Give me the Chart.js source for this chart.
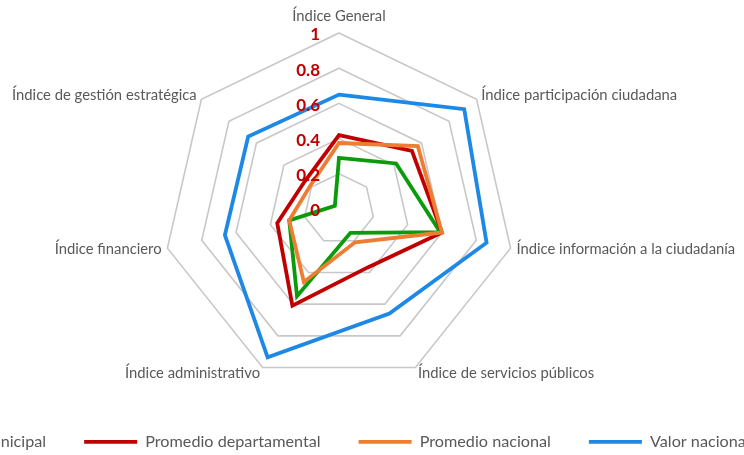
<!DOCTYPE html>
<html><head><meta charset="utf-8">
<script src="https://cdn.jsdelivr.net/npm/chart.js@4.4.1/dist/chart.umd.min.js"></script>
<style>
html,body{margin:0;padding:0;background:#fff;overflow:hidden;width:744px;height:455px;}
#wrap{position:absolute;left:-187px;top:0;width:1000px;height:460px;}
</style></head><body>
<div id="wrap"><canvas id="c" width="1000" height="460"></canvas></div>
<script>
const categories = [
  'Índice General',
  'Índice participación ciudadana',
  'Índice información a la ciudadanía',
  'Índice de servicios públicos',
  'Índice administrativo',
  'Índice financiero',
  'Índice de gestión estratégica'
];
const tickLabels = ['0', '0.2', '0.4', '0.6', '0.8', '1'];
const valorMunicipal        = [0.29, 0.415, 0.59, 0.15, 0.55, 0.29, 0.03];
const promedioDepartamental = [0.42, 0.53, 0.60, 0.37, 0.61, 0.36, 0.25];
const promedioNacional      = [0.375, 0.573, 0.60, 0.21, 0.46, 0.29, 0.21];
const valorNacional         = [0.65, 0.91, 0.86, 0.66, 0.935, 0.665, 0.66];
const seriesNames = ['Valor municipal', 'Promedio departamental', 'Promedio nacional', 'Valor nacional'];
const seriesColors = ['#0A9B0A', '#C00000', '#ED7D31', '#1E88E5'];

const FONT = 'Lato';

const radarText = {
  id: 'radarText',
  afterDatasetsDraw(chart) {
    const s = chart.scales.r;
    const ctx = chart.ctx;
    ctx.save();
    ctx.font = '14.8px ' + FONT;
    ctx.fillStyle = '#595959';
    ctx.textBaseline = 'middle';
    categories.forEach((lab, i) => {
      const p = s.getPointPosition(i, s.drawingArea + 6);
      const dx = p.x - s.xCenter;
      if (Math.abs(dx) < 1) { ctx.textAlign = 'center'; ctx.fillText(lab, p.x, p.y - 11); }
      else { ctx.textAlign = dx > 0 ? 'left' : 'right'; ctx.fillText(lab, p.x, p.y); }
    });
    ctx.font = 'bold 17px ' + FONT;
    ctx.fillStyle = '#C00000';
    ctx.textAlign = 'right';
    s.ticks.forEach((t, i) => {
      const y = s.yCenter - s.getDistanceFromCenterForValue(t.value);
      ctx.fillText(tickLabels[i] ?? String(t.value), s.xCenter - 19, y + 2);
    });
    ctx.restore();
  }
};

const allSeries = [valorMunicipal, promedioDepartamental, promedioNacional, valorNacional];

new Chart(document.getElementById('c'), {
  type: 'radar',
  data: {
    labels: categories,
    datasets: allSeries.map((d, i) => ({
      label: seriesNames[i],
      data: d,
      borderColor: seriesColors[i],
      backgroundColor: seriesColors[i],
      borderWidth: 3.8,
      borderCapStyle: 'round',
      borderJoinStyle: 'miter',
      fill: false,
      pointRadius: 0,
      pointHoverRadius: 0,
      order: 3 - i
    }))
  },
  options: {
    responsive: false,
    animation: false,
    devicePixelRatio: 1,
    layout: { padding: { top: 33, left: 0, right: 0, bottom: 0 } },
    scales: {
      r: {
        min: 0, max: 1,
        ticks: { stepSize: 0.2, display: false },
        grid: { color: '#C8C8C8', lineWidth: 1.6, circular: false },
        angleLines: { display: false },
        pointLabels: { display: false }
      }
    },
    plugins: {
      tooltip: { enabled: false },
      title: { display: true, position: 'left', text: ' ', padding: 18.8, font: { size: 12 } },
      legend: {
        position: 'bottom',
        align: 'center',
        title: { display: true, text: '', padding: 4, font: { size: 1, lineHeight: 1 } },
        labels: {
          usePointStyle: true,
          pointStyle: 'line',
          pointStyleWidth: 53,
          padding: 38,
          color: '#595959',
          font: { family: FONT, size: 16.2 },
          sort: (a, b) => a.datasetIndex - b.datasetIndex
        }
      }
    }
  },
  plugins: [radarText]
});
</script>
</body></html>
